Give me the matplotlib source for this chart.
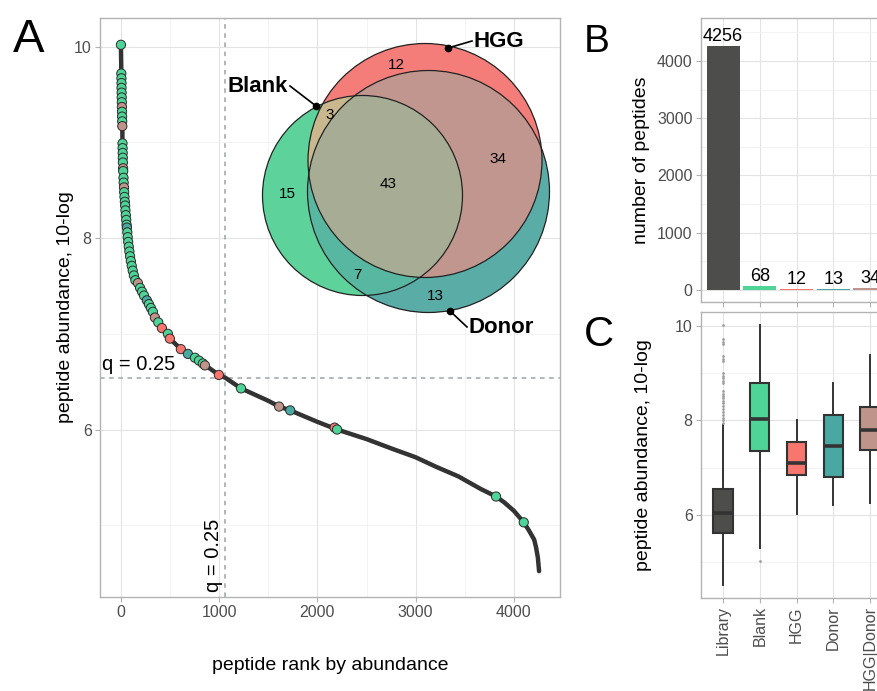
import numpy as np
import matplotlib
matplotlib.use('Agg')
import matplotlib.pyplot as plt
from matplotlib.patches import Circle
from matplotlib.colors import to_rgba

plt.rcParams['font.family'] = ['Liberation Sans', 'DejaVu Sans']

W, H = 878, 691

# --- panel A: peptide rank vs abundance (knots)
curve_rank = [0, 4, 14, 16, 23, 40, 70, 120, 173, 264, 346, 417, 498, 610, 682,
              834, 997, 1064, 1222, 1500, 1610, 1723, 2000, 2200, 2500, 2758, 3000,
              3209, 3435, 3660, 3818, 3900, 4000, 4100, 4150, 4206, 4225, 4244, 4256]
curve_value = [10.02, 9.72, 9.17, 8.99, 8.70, 8.38, 7.98, 7.69, 7.53, 7.35, 7.17,
               7.06, 6.95, 6.84, 6.79, 6.69, 6.57, 6.54, 6.43, 6.30, 6.24, 6.20,
               6.08, 6.00, 5.90, 5.80, 5.71, 5.61, 5.51, 5.38, 5.30, 5.24, 5.15,
               5.03, 4.95, 4.85, 4.77, 4.66, 4.52]

# peptides found after panning, placed on the curve
hit_rank = [0,
            4, 5, 6, 6, 7, 8, 9, 10, 11, 12, 13, 14,
            16, 17, 18, 19, 20, 22, 23,
            26, 28, 31, 33, 36, 40,
            43, 46, 50, 54, 58, 61, 65, 69, 74, 80, 86, 93, 101, 110, 120, 132, 147,
            173, 195, 215, 235, 264, 285, 305, 325, 346, 380, 417, 478, 498, 610,
            682, 753, 795, 834, 855, 997,
            1222, 1610, 1723, 2175, 2200, 3818, 4100]
hit_value = [10.02,
             9.72, 9.67, 9.62, 9.57, 9.52, 9.47, 9.42, 9.37, 9.32, 9.27, 9.22, 9.17,
             8.99, 8.94, 8.89, 8.84, 8.79, 8.73, 8.70,
             8.63, 8.58, 8.53, 8.48, 8.43, 8.38,
             8.34, 8.29, 8.24, 8.19, 8.14, 8.11, 8.06, 8.01, 7.96, 7.91, 7.86, 7.81,
             7.76, 7.71, 7.66, 7.61, 7.56,
             7.53, 7.48, 7.44, 7.40, 7.35, 7.31, 7.27, 7.23, 7.17, 7.12, 7.06, 7.00,
             6.95, 6.84, 6.79, 6.75, 6.72, 6.69, 6.67, 6.57,
             6.43, 6.24, 6.20, 6.02, 6.00, 5.30, 5.03]
hit_group = ['Blank',
             'Blank', 'Blank', 'Blank', 'Blank', 'Blank', 'Blank', 'Blank', 'HGG|Donor',
             'Blank', 'Blank', 'Blank', 'HGG|Donor',
             'Blank', 'Blank', 'Blank', 'Blank', 'Blank', 'HGG|Donor', 'Blank',
             'Blank', 'Blank', 'HGG|Donor', 'Blank', 'Blank', 'Blank',
             'Blank', 'Blank', 'Blank', 'Blank', 'Blank', 'Donor', 'Blank', 'Blank',
             'Blank', 'Blank', 'Blank', 'Blank', 'Blank', 'Blank', 'Blank', 'Blank', 'Blank',
             'HGG|Donor', 'Blank', 'Blank', 'Blank', 'Donor', 'Blank', 'Blank', 'Blank',
             'HGG|Donor', 'Blank', 'HGG', 'Blank', 'HGG', 'HGG', 'Donor', 'Blank', 'Blank',
             'Blank', 'HGG|Donor', 'HGG',
             'Blank', 'HGG|Donor', 'Donor', 'HGG', 'Blank', 'Blank', 'Blank']

q_rank = 1064
q_value = 6.54

# --- panel B: counts
groups = ['Library', 'Blank', 'HGG', 'Donor', 'HGG|Donor']
n_peptides = [4256, 68, 12, 13, 34]

# --- panel C: box statistics
box_q1 = [5.62, 7.35, 6.85, 6.80, 7.38]
box_med = [6.04, 8.03, 7.10, 7.46, 7.80]
box_q3 = [6.55, 8.79, 7.54, 8.12, 8.29]
box_lo = [4.52, 5.30, 6.02, 6.21, 6.25]
box_hi = [7.90, 10.03, 8.01, 8.79, 9.39]
library_outliers = [10.02, 9.72, 9.66, 9.62, 9.36, 9.30, 9.26, 9.00, 8.95, 8.90,
                    8.84, 8.80, 8.62, 8.57, 8.52, 8.47, 8.42, 8.37, 8.30, 8.24,
                    8.18, 8.12, 8.06, 8.00, 7.94]
blank_outliers = [5.03]

# --- Venn counts
venn_sets = ['Blank', 'HGG', 'Donor']
venn_regions = ['Blank', 'HGG', 'Donor', 'Blank&HGG', 'Blank&Donor',
                'HGG&Donor', 'Blank&HGG&Donor']
venn_counts = [15, 12, 13, 3, 7, 34, 43]

group_col = {'Library': '#4d4d4b', 'Blank': '#4fd497', 'HGG': '#f8766d',
             'Donor': '#4aa8a3', 'HGG|Donor': '#bf958b'}
region_col = {'Blank': '#5dd39b', 'HGG': '#f47d7a', 'Donor': '#5aaca7',
              'Blank&HGG': '#c9b78e', 'Blank&Donor': '#58b7a1',
              'HGG&Donor': '#c0968e', 'Blank&HGG&Donor': '#a6ad94'}

# layout of the venn overlay, in pixels
circ = {'Blank': (362.5, 195.5, 100), 'HGG': (425, 160.5, 117),
        'Donor': (428.5, 191.5, 121)}
region_xy = {'Blank': (287, 194), 'HGG': (396, 65), 'Donor': (435, 296),
             'Blank&HGG': (330, 115), 'Blank&Donor': (357, 275),
             'HGG&Donor': (498, 159), 'Blank&HGG&Donor': (388, 184)}
name_lab = {'Blank': ((316, 106), (290, 86), 'right'),
            'HGG': ((448, 48), (472, 41), 'left'),
            'Donor': ((450, 311), (467, 327), 'left')}

TXT = '#4d4d4d'
TICK = '#b3b3b3'
GRID = '#e3e3e3'


def px_rect(left, top, right, bottom):
    return [left / W, 1 - bottom / H, (right - left) / W, (bottom - top) / H]


def light_theme(ax):
    ax.set_axisbelow(True)
    for s in ax.spines.values():
        s.set_color(TICK)
        s.set_linewidth(1.0)
    ax.tick_params(which='major', length=3.5, width=0.8, color=TICK,
                   labelcolor=TXT, labelsize=11.5, pad=2.5)
    ax.tick_params(which='minor', length=0)
    ax.grid(True, which='major', color=GRID, lw=0.8)
    ax.grid(True, which='minor', color='#efefef', lw=0.5)


fig = plt.figure(figsize=(W / 100, H / 100), dpi=100)

# ---------------- A
ax = fig.add_axes(px_rect(100, 18, 560, 597))
light_theme(ax)
ax.set_xlim(-213, 4469)
ax.set_ylim(4.25, 10.3)
ax.set_xticks([0, 1000, 2000, 3000, 4000])
ax.set_xticks([500, 1500, 2500, 3500], minor=True)
ax.set_yticks([6, 8, 10])
ax.set_yticks([5, 7, 9], minor=True)
ax.axhline(q_value, color='#9ea3ab', lw=1.1, ls=(0, (3, 3)), zorder=2)
ax.axvline(q_rank, color='#9ea3ab', lw=1.1, ls=(0, (3, 3)), zorder=2)
ax.plot(curve_rank, curve_value, color='#333333', lw=3.2,
        solid_capstyle='round', solid_joinstyle='round', zorder=3)
ax.scatter(hit_rank, hit_value, c=[group_col[g] for g in hit_group], s=44,
           edgecolors='#2b2b2b', linewidths=0.7, zorder=4)
ax.text(-190, 6.58, 'q = 0.25', fontsize=14.5, ha='left', va='bottom')
ax.text(q_rank - 30, 4.30, 'q = 0.25', fontsize=14.5, rotation=90,
        ha='right', va='bottom')
ax.set_xlabel('peptide rank by abundance', fontsize=14)
ax.xaxis.set_label_coords(0.5, -0.104)
ax.set_ylabel('peptide abundance, 10-log', fontsize=14)
ax.yaxis.set_label_coords(-0.057, 0.5)

# ---------------- B
bx = fig.add_axes(px_rect(701, 18, 892, 302))
light_theme(bx)
pos = np.arange(1, len(groups) + 1)
bx.bar(pos, n_peptides, width=0.9, color=[group_col[g] for g in groups], zorder=2)
for x, n in zip(pos, n_peptides):
    bx.text(x, n + 25, str(n), ha='center', va='bottom', fontsize=13)
bx.set_xlim(0.4, len(groups) + 0.6)
bx.set_ylim(-210, 4750)
bx.set_xticks(pos)
bx.set_xticklabels([])
bx.set_yticks([0, 1000, 2000, 3000, 4000])
bx.set_yticks([500, 1500, 2500, 3500, 4500], minor=True)
bx.set_ylabel('number of peptides', fontsize=14)
bx.yaxis.set_label_coords(-0.267, 0.5)

# ---------------- C
cx = fig.add_axes(px_rect(701, 312, 892, 598))
light_theme(cx)
stats = []
for i, g in enumerate(groups):
    fl = library_outliers if g == 'Library' else (blank_outliers if g == 'Blank' else [])
    stats.append(dict(med=box_med[i], q1=box_q1[i], q3=box_q3[i],
                      whislo=box_lo[i], whishi=box_hi[i], fliers=fl))
bp = cx.bxp(stats, positions=pos, widths=0.52, patch_artist=True, showcaps=False,
            boxprops=dict(edgecolor='#333333', linewidth=1.5),
            medianprops=dict(color='#333333', linewidth=2.6),
            whiskerprops=dict(color='#333333', linewidth=1.4),
            flierprops=dict(marker='o', markersize=1.0, markerfacecolor='#a0a0a0',
                            markeredgecolor='#a0a0a0'))
for patch, g in zip(bp['boxes'], groups):
    patch.set_facecolor(group_col[g])
cx.set_xlim(0.4, len(groups) + 0.6)
cx.set_ylim(4.243, 10.296)
cx.set_xticks(pos)
cx.set_xticklabels(groups, rotation=90, fontsize=11.5)
cx.set_yticks([6, 8, 10])
cx.set_yticks([5, 7, 9], minor=True)
cx.set_ylabel('peptide abundance, 10-log', fontsize=14)
cx.yaxis.set_label_coords(-0.257, 0.5)

# ---------------- Venn overlay (pixel space)
vx = fig.add_axes([0, 0, 1, 1], zorder=5)
vx.set_axis_off()
vx.patch.set_alpha(0)
xs = np.arange(230, 570, 0.5)
ys = np.arange(30, 330, 0.5)
X, Y = np.meshgrid(xs, ys)
inside = {k: (X - c[0]) ** 2 + (Y - c[1]) ** 2 <= c[2] ** 2 for k, c in circ.items()}
img = np.zeros(X.shape + (4,))
for region in venn_regions:
    members = region.split('&')
    mask = np.ones(X.shape, bool)
    for s in venn_sets:
        mask &= inside[s] if s in members else ~inside[s]
    img[mask] = to_rgba(region_col[region])
vx.imshow(img, extent=(xs[0], xs[-1] + 0.5, ys[-1] + 0.5, ys[0]),
          interpolation='nearest', aspect='auto', zorder=1)
for s in venn_sets:
    c = circ[s]
    vx.add_patch(Circle((c[0], c[1]), c[2], fill=False, ec='#222222', lw=0.9, zorder=2))
for region, n in zip(venn_regions, venn_counts):
    x, y = region_xy[region]
    vx.text(x, y, str(n), ha='center', va='center', fontsize=11, zorder=3)
for s in venn_sets:
    (dx, dy), (tx, ty), ha = name_lab[s]
    vx.plot([dx, tx], [dy, ty], color='black', lw=1.2, zorder=3)
    vx.plot(dx, dy, 'o', color='black', ms=4.5, zorder=3)
    off = -2 if ha == 'right' else 2
    vx.text(tx + off, ty, s, ha=ha, va='center', fontsize=16, fontweight='bold', zorder=3)
vx.set_xlim(0, W)
vx.set_ylim(H, 0)

# panel letters
fig.text(13 / W, 1 - 52 / H, 'A', fontsize=34, va='baseline')
fig.text(584 / W, 1 - 52 / H, 'B', fontsize=28, va='baseline')
fig.text(584 / W, 1 - 346 / H, 'C', fontsize=30, va='baseline')

fig.savefig('out.png', dpi=100)
